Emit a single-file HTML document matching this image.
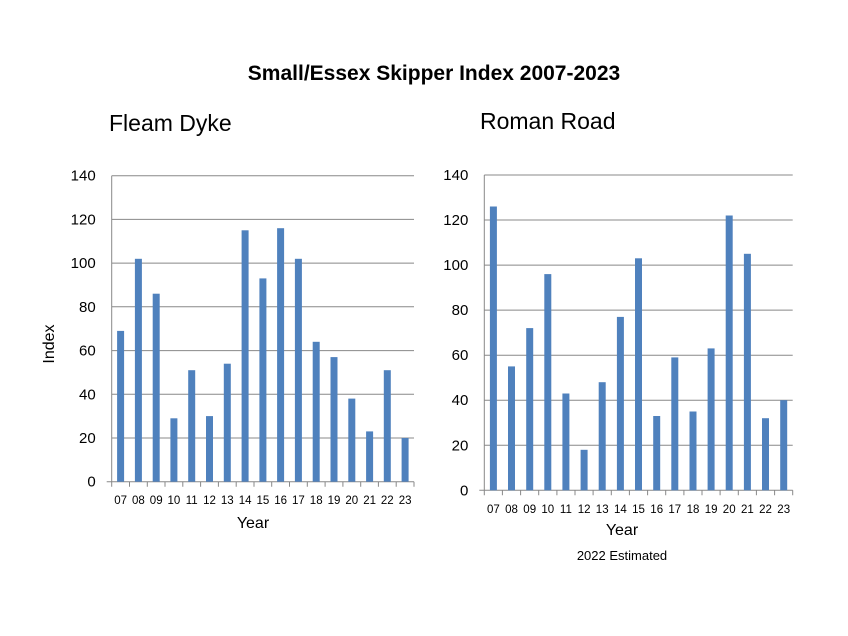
<!DOCTYPE html>
<html><head><meta charset="utf-8"><style>
body{margin:0;background:#fff}
svg{display:block;font-family:"Liberation Sans",sans-serif}
</style></head><body>
<svg width="848" height="636" viewBox="0 0 848 636" xmlns="http://www.w3.org/2000/svg">
<rect width="848" height="636" fill="#fff"/>
<text x="434" y="80" text-anchor="middle" font-size="21" font-weight="bold" fill="#000">Small/Essex Skipper Index 2007-2023</text>
<text x="109" y="131" font-size="23" fill="#000">Fleam Dyke</text>
<text x="480" y="129" font-size="23" fill="#000">Roman Road</text>

<!-- LEFT -->
<g stroke="#888" stroke-width="1">
<line x1="111.7" x2="414" y1="438" y2="438"/><line x1="111.7" x2="414" y1="394.3" y2="394.3"/><line x1="111.7" x2="414" y1="350.6" y2="350.6"/><line x1="111.7" x2="414" y1="306.8" y2="306.8"/><line x1="111.7" x2="414" y1="263.1" y2="263.1"/><line x1="111.7" x2="414" y1="219.4" y2="219.4"/><line x1="111.7" x2="414" y1="175.7" y2="175.7"/>
<line x1="111.7" x2="111.7" y1="175.7" y2="481.7"/><line x1="106.7" x2="414" y1="481.7" y2="481.7"/>
<path d="M111.7 481.7v5M129.5 481.7v5M147.3 481.7v5M165 481.7v5M182.8 481.7v5M200.6 481.7v5M218.4 481.7v5M236.2 481.7v5M254 481.7v5M271.7 481.7v5M289.5 481.7v5M307.3 481.7v5M325.1 481.7v5M342.9 481.7v5M360.7 481.7v5M378.4 481.7v5M396.2 481.7v5M414 481.7v5"/>
</g>
<g fill="#4f81bd">
<rect x="117.1" y="330.9" width="7" height="150.8"/><rect x="134.9" y="258.8" width="7" height="222.9"/><rect x="152.7" y="293.7" width="7" height="188"/><rect x="170.4" y="418.3" width="7" height="63.4"/><rect x="188.2" y="370.2" width="7" height="111.5"/><rect x="206" y="416.1" width="7" height="65.6"/><rect x="223.8" y="363.7" width="7" height="118"/><rect x="241.6" y="230.3" width="7" height="251.4"/><rect x="259.4" y="278.4" width="7" height="203.3"/><rect x="277.1" y="228.2" width="7" height="253.5"/><rect x="294.9" y="258.8" width="7" height="222.9"/><rect x="312.7" y="341.8" width="7" height="139.9"/><rect x="330.5" y="357.1" width="7" height="124.6"/><rect x="348.3" y="398.6" width="7" height="83.1"/><rect x="366.1" y="431.4" width="7" height="50.3"/><rect x="383.8" y="370.2" width="7" height="111.5"/><rect x="401.6" y="438" width="7" height="43.7"/>
</g>
<g font-size="15" text-anchor="end" fill="#000">
<text x="95.7" y="486.7">0</text><text x="95.7" y="443">20</text><text x="95.7" y="399.3">40</text><text x="95.7" y="355.6">60</text><text x="95.7" y="311.8">80</text><text x="95.7" y="268.1">100</text><text x="95.7" y="224.4">120</text><text x="95.7" y="180.7">140</text>
</g>
<g font-size="11.5" text-anchor="middle" fill="#000">
<text x="120.6" y="504">07</text><text x="138.4" y="504">08</text><text x="156.2" y="504">09</text><text x="173.9" y="504">10</text><text x="191.7" y="504">11</text><text x="209.5" y="504">12</text><text x="227.3" y="504">13</text><text x="245.1" y="504">14</text><text x="262.9" y="504">15</text><text x="280.6" y="504">16</text><text x="298.4" y="504">17</text><text x="316.2" y="504">18</text><text x="334" y="504">19</text><text x="351.8" y="504">20</text><text x="369.6" y="504">21</text><text x="387.3" y="504">22</text><text x="405.1" y="504">23</text>
</g>

<!-- RIGHT -->
<g stroke="#888" stroke-width="1">
<line x1="484.3" x2="792.7" y1="445.3" y2="445.3"/><line x1="484.3" x2="792.7" y1="400.2" y2="400.2"/><line x1="484.3" x2="792.7" y1="355.2" y2="355.2"/><line x1="484.3" x2="792.7" y1="310.1" y2="310.1"/><line x1="484.3" x2="792.7" y1="265.1" y2="265.1"/><line x1="484.3" x2="792.7" y1="220" y2="220"/><line x1="484.3" x2="792.7" y1="175" y2="175"/>
<line x1="484.3" x2="484.3" y1="175" y2="490.3"/><line x1="479.3" x2="792.7" y1="490.3" y2="490.3"/>
<path d="M484.3 490.3v5M502.4 490.3v5M520.6 490.3v5M538.7 490.3v5M556.9 490.3v5M575 490.3v5M593.1 490.3v5M611.3 490.3v5M629.4 490.3v5M647.6 490.3v5M665.7 490.3v5M683.9 490.3v5M702 490.3v5M720.1 490.3v5M738.3 490.3v5M756.4 490.3v5M774.6 490.3v5M792.7 490.3v5"/>
</g>
<g fill="#4f81bd">
<rect x="489.9" y="206.5" width="7" height="283.8"/><rect x="508" y="366.4" width="7" height="123.9"/><rect x="526.2" y="328.1" width="7" height="162.2"/><rect x="544.3" y="274.1" width="7" height="216.2"/><rect x="562.4" y="393.5" width="7" height="96.8"/><rect x="580.6" y="449.8" width="7" height="40.5"/><rect x="598.7" y="382.2" width="7" height="108.1"/><rect x="616.9" y="316.9" width="7" height="173.4"/><rect x="635" y="258.3" width="7" height="232"/><rect x="653.2" y="416" width="7" height="74.3"/><rect x="671.3" y="357.4" width="7" height="132.9"/><rect x="689.5" y="411.5" width="7" height="78.8"/><rect x="707.6" y="348.4" width="7" height="141.9"/><rect x="725.7" y="215.5" width="7" height="274.8"/><rect x="743.9" y="253.8" width="7" height="236.5"/><rect x="762" y="418.2" width="7" height="72.1"/><rect x="780.2" y="400.2" width="7" height="90.1"/>
</g>
<g font-size="15" text-anchor="end" fill="#000">
<text x="468.3" y="495.3">0</text><text x="468.3" y="450.3">20</text><text x="468.3" y="405.2">40</text><text x="468.3" y="360.2">60</text><text x="468.3" y="315.1">80</text><text x="468.3" y="270.1">100</text><text x="468.3" y="225">120</text><text x="468.3" y="180">140</text>
</g>
<g font-size="11.5" text-anchor="middle" fill="#000">
<text x="493.4" y="513">07</text><text x="511.5" y="513">08</text><text x="529.7" y="513">09</text><text x="547.8" y="513">10</text><text x="565.9" y="513">11</text><text x="584.1" y="513">12</text><text x="602.2" y="513">13</text><text x="620.4" y="513">14</text><text x="638.5" y="513">15</text><text x="656.7" y="513">16</text><text x="674.8" y="513">17</text><text x="693" y="513">18</text><text x="711.1" y="513">19</text><text x="729.2" y="513">20</text><text x="747.4" y="513">21</text><text x="765.5" y="513">22</text><text x="783.7" y="513">23</text>
</g>

<text x="54" y="344" font-size="16" text-anchor="middle" transform="rotate(-90 54 344)">Index</text>
<text x="253" y="528" font-size="16" text-anchor="middle">Year</text>
<text x="622" y="535" font-size="16" text-anchor="middle">Year</text>
<text x="622" y="560" font-size="13" text-anchor="middle">2022 Estimated</text>
</svg>
</body></html>
